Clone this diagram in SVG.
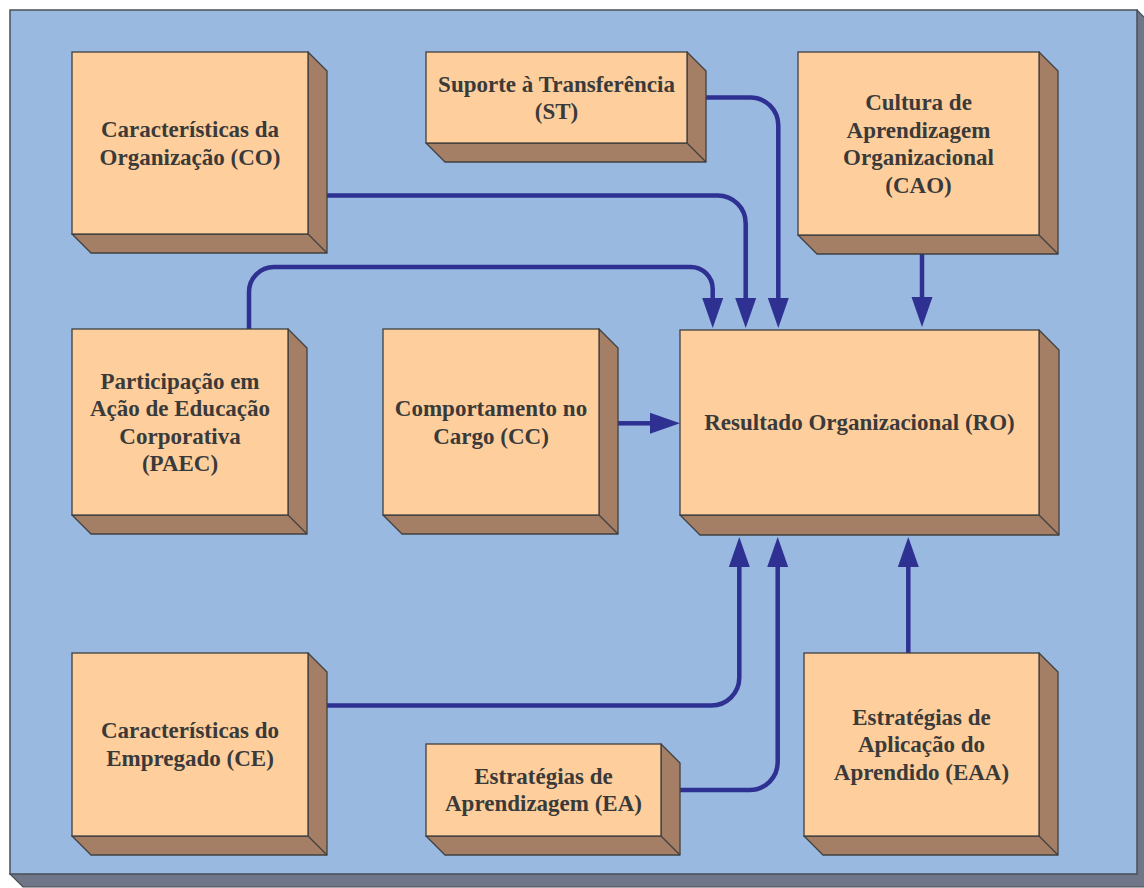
<svg xmlns="http://www.w3.org/2000/svg" width="1144" height="888" viewBox="0 0 1144 888">
  <defs>
    <style>
      .panel { fill: #99b9e1; stroke: #4a4e57; stroke-width: 1.5; }
      .panel-depth { fill: #6f7687; stroke: #4a4e57; stroke-width: 1.2; }
      .face { fill: #fecf9c; stroke: #404040; stroke-width: 1.3; }
      .side { fill: #a47f66; stroke: #404040; stroke-width: 1.3; stroke-linejoin: round; }
      .label { font-family: "Liberation Serif", "Times New Roman", serif; font-weight: bold; font-size: 23px; fill: #3a3a3a; text-anchor: middle; }
      .conn { fill: none; stroke: #2e3192; stroke-width: 4.5; }
    </style>
    <marker id="arrow" markerUnits="userSpaceOnUse" markerWidth="31" markerHeight="22" viewBox="0 -11 31 22" refX="0" refY="0" orient="auto" overflow="visible">
      <path d="M0,-10.5 L30,0 L0,10.5 Z" fill="#2e3192"/>
    </marker>
  </defs>

  <!-- background panel with its extruded edge -->
  <g id="panel">
    <polygon class="panel-depth" points="1137,10 1150,23 1150,887 23,887 10,874"/>
    <rect class="panel" x="10" y="10" width="1127" height="864"/>
  </g>

  <!-- connectors -->
  <g id="connectors">
    <path class="conn" marker-end="url(#arrow)" d="M327,195.5 H717.7 A28,28 0 0 1 745.7,223.5 V298"/>
    <path class="conn" marker-end="url(#arrow)" d="M705,97.5 H750.3 A28,28 0 0 1 778.3,125.5 V298"/>
    <path class="conn" marker-end="url(#arrow)" d="M249,329 V292 A25,25 0 0 1 274,267 H690.7 A22,22 0 0 1 712.7,289 V298"/>
    <path class="conn" marker-end="url(#arrow)" d="M922,254 V297"/>
    <path class="conn" marker-end="url(#arrow)" d="M618,423.3 H650"/>
    <path class="conn" marker-end="url(#arrow)" d="M327,705.5 H711.3 A28,28 0 0 0 739.3,677.5 V567"/>
    <path class="conn" marker-end="url(#arrow)" d="M680,790 H749.7 A28,28 0 0 0 777.7,762 V567"/>
    <path class="conn" marker-end="url(#arrow)" d="M908.3,653 V567"/>
  </g>

  <!-- Características da Organização -->
  <g id="node-co">
    <polygon class="side" points="308,52 327,71 327,253 91,253 72,234 308,234"/>
    <line class="side" x1="308" y1="234" x2="327" y2="253"/>
    <rect class="face" x="72" y="52" width="236" height="182"/>
    <text class="label" x="190" y="137">Características da</text>
    <text class="label" x="190" y="164.5">Organização (CO)</text>
  </g>

  <!-- Suporte à Transferência -->
  <g id="node-st">
    <polygon class="side" points="687,52 706,71 706,162 445,162 426,143 687,143"/>
    <line class="side" x1="687" y1="143" x2="706" y2="162"/>
    <rect class="face" x="426" y="52" width="261" height="91"/>
    <text class="label" x="556.5" y="91.5">Suporte à Transferência</text>
    <text class="label" x="556.5" y="119">(ST)</text>
  </g>

  <!-- Cultura de Aprendizagem Organizacional -->
  <g id="node-cao">
    <polygon class="side" points="1039,52 1058,71 1058,254 817,254 798,235 1039,235"/>
    <line class="side" x1="1039" y1="235" x2="1058" y2="254"/>
    <rect class="face" x="798" y="52" width="241" height="183"/>
    <text class="label" x="918.5" y="110">Cultura de</text>
    <text class="label" x="918.5" y="137.5">Aprendizagem</text>
    <text class="label" x="918.5" y="165">Organizacional</text>
    <text class="label" x="918.5" y="192.5">(CAO)</text>
  </g>

  <!-- Participação em Ação de Educação Corporativa -->
  <g id="node-paec">
    <polygon class="side" points="288,329 307,348 307,534 91,534 72,515 288,515"/>
    <line class="side" x1="288" y1="515" x2="307" y2="534"/>
    <rect class="face" x="72" y="329" width="216" height="186"/>
    <text class="label" x="180" y="388.5">Participação em</text>
    <text class="label" x="180" y="416">Ação de Educação</text>
    <text class="label" x="180" y="443.5">Corporativa</text>
    <text class="label" x="180" y="471">(PAEC)</text>
  </g>

  <!-- Comportamento no Cargo -->
  <g id="node-cc">
    <polygon class="side" points="599,329 618,348 618,534 402,534 383,515 599,515"/>
    <line class="side" x1="599" y1="515" x2="618" y2="534"/>
    <rect class="face" x="383" y="329" width="216" height="186"/>
    <text class="label" x="491" y="416">Comportamento no</text>
    <text class="label" x="491" y="443.5">Cargo (CC)</text>
  </g>

  <!-- Resultado Organizacional -->
  <g id="node-ro">
    <polygon class="side" points="1039,330 1059,350 1059,535 700,535 680,515 1039,515"/>
    <line class="side" x1="1039" y1="515" x2="1059" y2="535"/>
    <rect class="face" x="680" y="330" width="359" height="185"/>
    <text class="label" x="859.5" y="430">Resultado Organizacional (RO)</text>
  </g>

  <!-- Características do Empregado -->
  <g id="node-ce">
    <polygon class="side" points="308,653 327,672 327,855 91,855 72,836 308,836"/>
    <line class="side" x1="308" y1="836" x2="327" y2="855"/>
    <rect class="face" x="72" y="653" width="236" height="183"/>
    <text class="label" x="190" y="738">Características do</text>
    <text class="label" x="190" y="765.5">Empregado (CE)</text>
  </g>

  <!-- Estratégias de Aprendizagem -->
  <g id="node-ea">
    <polygon class="side" points="661,744 680,763 680,855 445,855 426,836 661,836"/>
    <line class="side" x1="661" y1="836" x2="680" y2="855"/>
    <rect class="face" x="426" y="744" width="235" height="92"/>
    <text class="label" x="543.5" y="783.5">Estratégias de</text>
    <text class="label" x="543.5" y="811">Aprendizagem (EA)</text>
  </g>

  <!-- Estratégias de Aplicação do Aprendido -->
  <g id="node-eaa">
    <polygon class="side" points="1039,653 1058,672 1058,855 823,855 804,836 1039,836"/>
    <line class="side" x1="1039" y1="836" x2="1058" y2="855"/>
    <rect class="face" x="804" y="653" width="235" height="183"/>
    <text class="label" x="921.5" y="724.5">Estratégias de</text>
    <text class="label" x="921.5" y="752">Aplicação do</text>
    <text class="label" x="921.5" y="779.5">Aprendido (EAA)</text>
  </g>
</svg>
